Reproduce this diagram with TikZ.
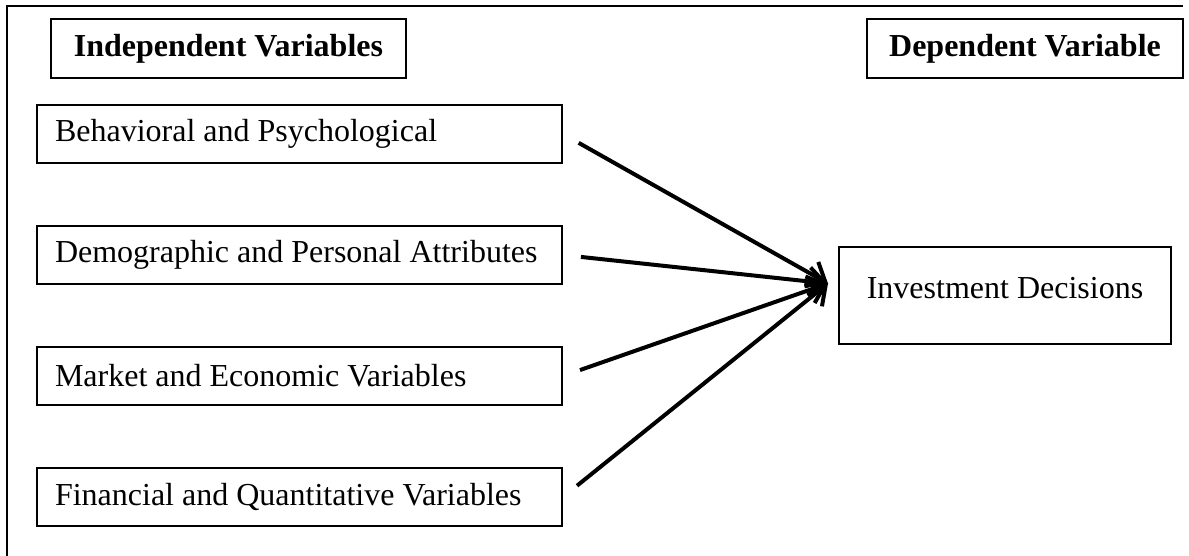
\documentclass[tikz,border=0pt]{standalone}
\usepackage{fontspec}
\setmainfont{Liberation Serif}
\usetikzlibrary{arrows.meta}
\usetikzlibrary{positioning}

\newcommand{\varitem}[1]{\makebox[244.5pt][l]{#1}}

\begin{document}
\begin{tikzpicture}[x=0.5pt, y=-0.5pt,
    headbox/.style={draw, line width=1pt, inner sep=0pt, minimum height=29.5pt, font=\fontsize{16}{19}\selectfont\bfseries},
    varbox/.style={draw, line width=1pt, inner xsep=9pt, inner ysep=0pt, minimum height=29pt, font=\fontsize{16}{19}\selectfont},
    link/.style={line width=2pt, shorten <=9pt, -{Straight Barb[length=8pt, width=14pt, line width=2pt]}}]
      \useasboundingbox (0,0) rectangle (1189,556);
      \draw[line width=1.3pt] (7,556) -- (7,6) -- (1183,6);

      \node[headbox, minimum width=177.5pt] (indep) at (228.5,48.5) {Independent Variables};
      \node[headbox, minimum width=158pt] (dep) at (1025,48.5) {Dependent Variable};

      \node[varbox] (beh) at (299.5,134) {\varitem{Behavioral and Psychological}};
      \node[varbox, below=30.5pt of beh] (dem) {\varitem{Demographic and Personal Attributes}};
      \node[varbox, below=30.5pt of dem] (mkt) {\varitem{Market and Economic Variables}};
      \node[varbox, below=30.5pt of mkt] (fin) {\varitem{Financial and Quantitative Variables}};

      \node[draw, line width=1pt, minimum width=166pt, inner sep=0pt, text height=25.5pt, text depth=23pt, font=\fontsize{16}{19}\selectfont] (inv) at (1005,295.5) {Investment Decisions};
      \coordinate (tip) at ([xshift=-5pt, yshift=6pt]inv.west);

      \foreach \src in {beh, dem, mkt, fin}{
        \draw[link] (\src.east) -- (tip);
      }
    \end{tikzpicture}
\end{document}
